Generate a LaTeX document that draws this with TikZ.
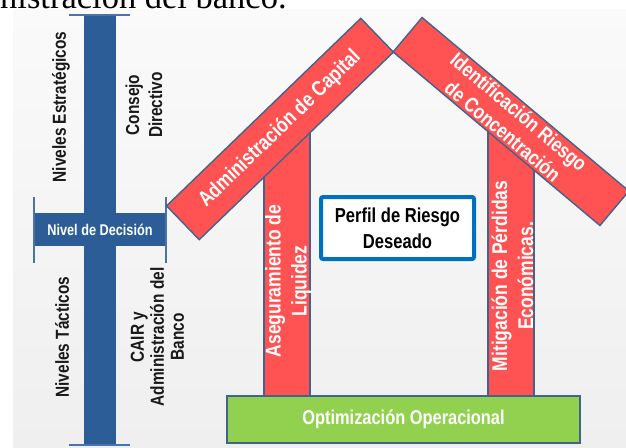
\documentclass[tikz,border=0pt]{standalone}
\usepackage{fontspec}
\setmainfont{Liberation Serif}
\newfontfamily\nar[FakeStretch=0.82]{Liberation Sans}
\definecolor{barblue}{RGB}{45,93,150}
\definecolor{capblue}{RGB}{75,115,170}
\definecolor{roofred}{RGB}{255,82,82}
\definecolor{edgeblue}{RGB}{65,100,140}
\definecolor{optgreen}{RGB}{146,208,80}
\definecolor{boxblue}{RGB}{0,112,192}
\definecolor{bgtop}{RGB}{250,250,250}
\definecolor{bgbot}{RGB}{239,239,239}
\begin{document}
\begin{tikzpicture}[x=1pt,y=-1pt,
  darklbl/.style={font=\nar\bfseries\fontsize{18.8}{23}\selectfont, text=black!90, align=center, inner sep=0pt},
  boldlbl/.style={font=\nar\bfseries\fontsize{18.8}{20}\selectfont, text=black!90, align=center, inner sep=0pt},
  whitelbl/.style={font=\nar\bfseries\fontsize{21.3}{26}\selectfont, text=white, align=center, inner sep=0pt},
  beam/.style={draw=edgeblue, line width=1.4pt, fill=roofred, inner sep=0pt},
  capline/.style={draw=capblue, line width=1.5pt}]
\useasboundingbox (0,0) rectangle (626,447);
% heading line cut by the top edge
\node[anchor=base west, inner sep=0pt, font=\fontsize{34.5}{40}\selectfont] (head) at (0,9) {nistración del banco.};
% background
\fill[top color=bgtop, bottom color=bgbot] (13,9) rectangle (626,447);
% vertical decision bar
\fill[barblue] (84,15) rectangle (116,445);
\draw[capline] (69,15) -- (130,15);
\draw[capline] (69,445) -- (130,445);
% horizontal decision bar
\node[fill=barblue, minimum width=132pt, minimum height=33pt, inner sep=0pt,
      font=\nar\bfseries\fontsize{15.5}{18}\selectfont, text=white] (nivel) at (100,229.5) {Nivel de Decisión};
\draw[capline] (34,197) -- (34,263);
\draw[capline] (166,197) -- (166,263);
% side labels
\node[darklbl, rotate=90] (estr) at (61,107) {Niveles Estratégicos};
\node[darklbl, rotate=90] (consejo) at (144,105) {Consejo\\Directivo};
\node[darklbl, rotate=90] (tact) at (62,337) {Niveles Tácticos};
\node[boldlbl, rotate=90] (cair) at (157.5,337) {CAIR y\\Administración del\\Banco};
% pillars
\node[beam, minimum width=46pt, minimum height=271pt] (pilL) at (287,260.5) {};
\node[beam, minimum width=46pt, minimum height=271pt] (pilR) at (511,260.5) {};
\node[whitelbl, rotate=90] (liq) at (288,281) {Aseguramiento de\\Liquidez};
\node[whitelbl, rotate=90] (mit) at (512.5,276) {Mitigación de Pérdidas\\Económicas.};
% roof beams
\node[beam, rotate=44, minimum width=270pt, minimum height=47pt, whitelbl] (cap) at (280,129) {Administración de Capital};
\node[beam, rotate=-40, minimum width=270pt, minimum height=45pt, whitelbl, font=\nar\bfseries\fontsize{20.7}{25}\selectfont] (conc) at (511,121.5) {Identificación Riesgo\\de Concentración};
% base
\node[draw=edgeblue, line width=1.2pt, fill=optgreen, minimum width=353pt, minimum height=47pt, inner sep=0pt,
      font=\nar\bfseries\fontsize{20}{23}\selectfont, text=white] (opt) at (403.5,419.5) {Optimización Operacional};
% target box
\node[draw=boxblue, line width=4pt, fill=white, rounded corners=2pt, minimum width=153pt, minimum height=62pt, inner sep=0pt,
      font=\nar\bfseries\fontsize{20.2}{26}\selectfont, text=black, align=center] (perfil) at (397.5,228) {Perfil de Riesgo\\Deseado};
\end{tikzpicture}
\end{document}
